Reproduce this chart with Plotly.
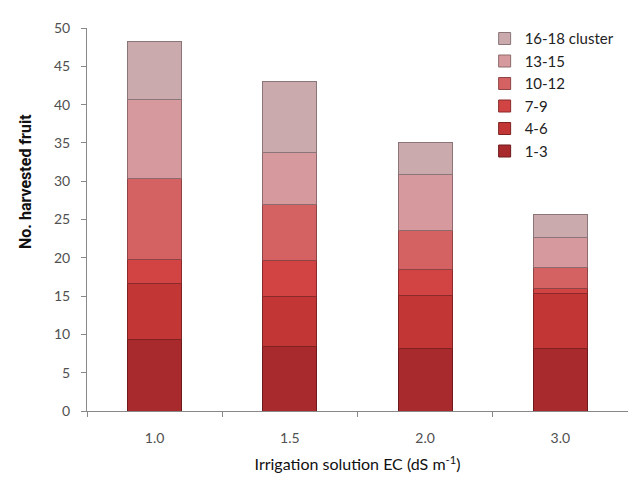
import plotly.graph_objects as go

# Irrigation solution EC treatments (dS m-1)
ec_levels = ["1.0", "1.5", "2.0", "3.0"]

# Harvested fruit per truss-cluster group, stacked from the bottom up
cluster_groups = ["1-3", "4-6", "7-9", "10-12", "13-15", "16-18 cluster"]
fruit_1_3 = [9.4, 8.4, 8.1, 8.2]
fruit_4_6 = [7.2, 6.6, 7.0, 7.2]
fruit_7_9 = [3.2, 4.7, 3.4, 0.6]
fruit_10_12 = [10.5, 7.2, 5.1, 2.7]
fruit_13_15 = [10.4, 6.8, 7.3, 3.9]
fruit_16_18 = [7.5, 9.3, 4.1, 3.1]

series = [fruit_1_3, fruit_4_6, fruit_7_9, fruit_10_12, fruit_13_15, fruit_16_18]
fills = ["#a82a2c", "#c23636", "#d24444", "#d46262", "#d69a9e", "#caaaac"]
edges = ["#6e1a1c", "#7e2222", "#8a2a2a", "#8e4444", "#8e6a6c", "#8a7678"]

fig = go.Figure()
for name, vals, fc, ec in zip(cluster_groups, series, fills, edges):
    fig.add_trace(go.Bar(
        x=ec_levels, y=vals, name=name,
        marker=dict(color=fc, line=dict(color=ec, width=1)),
        width=0.4,
    ))

font_family = "Lato, 'Open Sans', sans-serif"
axis_font = dict(family=font_family, size=14, color="#505050")

fig.update_layout(
    barmode="stack",
    width=628, height=485,
    margin=dict(l=87, r=0, t=28, b=74),
    paper_bgcolor="white", plot_bgcolor="white",
    font=axis_font,
    showlegend=True,
    legend=dict(
        traceorder="reversed",
        x=0.735, y=1.015, xanchor="left", yanchor="top",
        font=dict(family=font_family, size=15, color="#222222"),
        bgcolor="rgba(0,0,0,0)",
        itemwidth=30, tracegroupgap=0,
    ),
    xaxis=dict(
        type="category",
        showline=True, linecolor="#888888", linewidth=1,
        ticks="outside", tickson="boundaries", ticklen=5, tickcolor="#888888",
        ticklabelstandoff=14,
        showgrid=False,
        title=dict(text="Irrigation solution EC (dS m<sup>-1</sup>)",
                   font=dict(family=font_family, size=16, color="#111111"),
                   standoff=14),
        tickfont=axis_font,
    ),
    yaxis=dict(
        range=[0, 50], dtick=5,
        showline=True, linecolor="#888888", linewidth=1,
        ticks="outside", ticklen=5, tickcolor="#888888",
        ticklabelstandoff=8,
        showgrid=False, zeroline=False,
        tickfont=axis_font,
    ),
    annotations=[dict(
        text="<b>No. harvested fruit</b>",
        textangle=-90,
        xref="paper", yref="paper",
        x=-0.115, y=0.6, xanchor="center", yanchor="middle",
        showarrow=False,
        font=dict(family="Roboto, 'Open Sans', sans-serif", size=16, color="#111111"),
    )],
)

fig.write_html("out.html")
